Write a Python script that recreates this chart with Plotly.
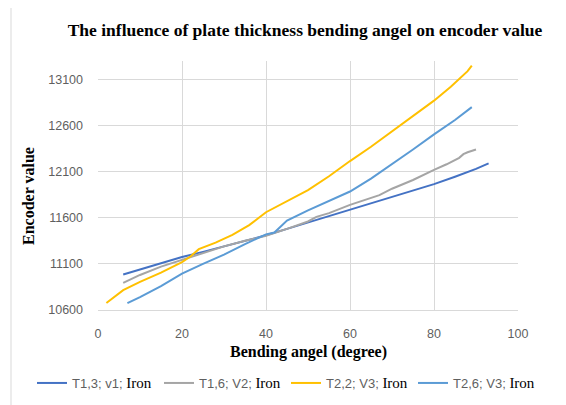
import plotly.graph_objects as go

# ---- data ----
t13_x = [6, 10, 15, 20, 25, 30, 35, 40, 45, 50, 55, 60, 65, 70, 75, 80, 85, 90, 93]
t13_y = [10985, 11040, 11110, 11175, 11230, 11290, 11350, 11410, 11480, 11550, 11615,
         11685, 11755, 11825, 11895, 11965, 12045, 12130, 12190]

t16_x = [6, 10, 15, 20, 25, 30, 35, 40, 45, 50, 52, 55, 60, 65, 67, 70, 75, 80, 83, 86, 87, 88, 90]
t16_y = [10895, 10980, 11070, 11145, 11220, 11290, 11350, 11405, 11480, 11560, 11610, 11650,
         11740, 11810, 11845, 11915, 12010, 12120, 12180, 12250, 12290, 12310, 12340]

t22_x = [2, 4, 6, 10, 15, 20, 22, 24, 28, 32, 36, 40, 45, 50, 55, 60, 65, 70, 75, 80, 84, 86, 88, 89]
t22_y = [10675, 10750, 10815, 10905, 11005, 11120, 11180, 11260, 11330, 11415, 11520, 11660,
         11780, 11900, 12050, 12215, 12370, 12540, 12705, 12870, 13020, 13100, 13190, 13250]

t26_x = [7, 10, 15, 20, 25, 30, 35, 40, 42, 45, 50, 55, 60, 65, 70, 75, 80, 85, 89]
t26_y = [10675, 10740, 10860, 10995, 11100, 11200, 11315, 11420, 11440, 11570, 11680, 11780,
         11885, 12025, 12180, 12340, 12505, 12660, 12800]

series = [
    ("T1,3; v1;", t13_x, t13_y, "#4472C4"),
    ("T1,6; V2;", t16_x, t16_y, "#A5A5A5"),
    ("T2,2; V3;", t22_x, t22_y, "#FFC000"),
    ("T2,6; V3;", t26_x, t26_y, "#5B9BD5"),
]

x_ticks = [0, 20, 40, 60, 80, 100]
y_ticks = [10600, 11100, 11600, 12100, 12600, 13100]

SANS = "Liberation Sans"
SERIF = "Liberation Serif"
TICK_COLOR = "#5f5f5f"

fig = go.Figure()
for name, xs, ys, col in series:
    label = (f'{name} <span style="font-family:{SERIF};color:#000000;font-size:15px">Iron</span>')
    fig.add_trace(go.Scatter(x=xs, y=ys, mode="lines", name=label,
                             line=dict(color=col, width=2)))

# the page body has an 8px margin, so work in reference pixels minus 8
OFF = 8
W, H = 566 - OFF, 405 - OFF
L, R, T, B = 98 - OFF, 518 - OFF, 61 - OFF, 310 - OFF
pw, ph = R - L, B - T

def px2paper(x, y):
    """reference-window pixel -> paper coords"""
    return (x - OFF - L) / pw, (B - (y - OFF)) / ph

fig.update_layout(
    width=W, height=H,
    margin=dict(l=L, r=W - R, t=T, b=H - B, autoexpand=False),
    paper_bgcolor="white", plot_bgcolor="white",
    title=dict(text="<b>The influence of plate thickness bending angel on encoder value</b>",
               font=dict(family=SERIF, size=17.5, color="#000000"),
               x=px2paper(305, 0)[0], xref="paper", xanchor="center",
               y=1 - (30 - OFF) / H, yref="container", yanchor="middle"),
    xaxis=dict(range=[0, 100], tickvals=x_ticks, ticktext=[str(v) for v in x_ticks],
               showgrid=True, gridcolor="#d9d9d9", gridwidth=1, zeroline=False,
               showline=True, linecolor="#d9d9d9", linewidth=1,
               tickfont=dict(family=SANS, size=12.5, color=TICK_COLOR),
               ticks="", ticklabelstandoff=12),
    yaxis=dict(range=[10600, 13300], tickvals=y_ticks, ticktext=[str(v) for v in y_ticks],
               showgrid=True, gridcolor="#d9d9d9", gridwidth=1, zeroline=False,
               showline=False,
               tickfont=dict(family=SANS, size=12.5, color=TICK_COLOR),
               ticks="", ticklabelstandoff=14),
    legend=dict(orientation="h", x=px2paper(32, 0)[0], xanchor="left",
                y=px2paper(0, 383)[1], yanchor="middle",
                font=dict(family=SANS, size=13, color=TICK_COLOR),
                bgcolor="rgba(0,0,0,0)", entrywidth=82, entrywidthmode="pixels",
                itemwidth=30, tracegroupgap=0),
    showlegend=True,
)

# axis titles
ax, ay = px2paper(28, 196)
fig.add_annotation(text="<b>Encoder value</b>", xref="paper", yref="paper", x=ax, y=ay,
                   textangle=-90, showarrow=False, xanchor="center", yanchor="middle",
                   font=dict(family=SERIF, size=16, color="#000000"))
bx, by = px2paper(308, 352)
fig.add_annotation(text="<b>Bending angel (degree)</b>", xref="paper", yref="paper", x=bx, y=by,
                   showarrow=False, xanchor="center", yanchor="middle",
                   font=dict(family=SERIF, size=16, color="#000000"))

# chart-area border (left and top visible)
x0, y1 = px2paper(11, 7)
x1, y0 = px2paper(575, 415)
fig.add_shape(type="rect", xref="paper", yref="paper", x0=x0, x1=x1, y0=y0, y1=y1,
              line=dict(color="#d9d9d9", width=1), layer="below")

fig.write_html("out.html")
